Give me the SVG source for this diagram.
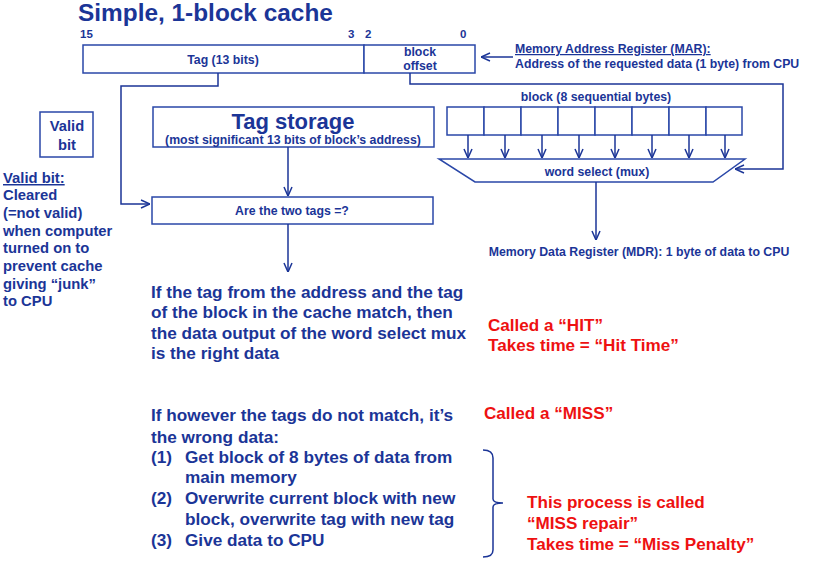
<svg xmlns="http://www.w3.org/2000/svg" width="815" height="562" viewBox="0 0 815 562">
<defs>
<marker id="ah" viewBox="0 0 10 10" refX="10" refY="5" markerWidth="10" markerHeight="10" markerUnits="userSpaceOnUse" orient="auto">
<path d="M1,1 L10,5 L1,9" fill="none" stroke="#1b3597" stroke-width="1.5"/>
</marker>
</defs>
<style>
text{font-family:"Liberation Sans",Arial,sans-serif;font-weight:bold;fill:#1b3597}
.box{fill:#fff;stroke:#2a47a8;stroke-width:1.5}
.ln{fill:none;stroke:#1b3597;stroke-width:1.5}
.b{font-size:11.5px}
.s{font-size:12.3px}
.m{font-size:17.2px}
.r{fill:#ee1111;font-size:17.1px}
.c{text-anchor:middle}
</style>
<rect width="815" height="562" fill="#fff"/>
<text x="78" y="21" style="font-size:24.4px">Simple, 1-block cache</text>

<g id="mar">
<text class="b" x="80" y="38">15</text>
<text class="b" x="348" y="38">3</text>
<text class="b" x="365" y="38">2</text>
<text class="b" x="460" y="38">0</text>
<rect class="box" x="83" y="45" width="281" height="28"/>
<rect class="box" x="364" y="45" width="111" height="28"/>
<text class="s c" x="223" y="64">Tag (13 bits)</text>
<text class="s c" x="420" y="56">block</text>
<text class="s c" x="420" y="70">offset</text>
</g>
<g id="mar-label">
<text class="s" x="515" y="53" text-decoration="underline">Memory Address Register (MAR):</text>
<text class="s" x="515" y="68">Address of the requested data (1 byte) from CPU</text>
</g>

<g id="valid">
<rect class="box" x="40" y="112" width="53" height="45"/>
<text class="c" x="67" y="131" style="font-size:14.7px">Valid</text>
<text class="c" x="67" y="150" style="font-size:14.7px">bit</text>
</g>

<g id="valid-note" style="font-size:14.8px">
<text x="3" y="183" text-decoration="underline">Valid bit:</text>
<text x="3" y="200">Cleared</text>
<text x="3" y="218">(=not valid)</text>
<text x="3" y="236">when computer</text>
<text x="3" y="253">turned on to</text>
<text x="3" y="271">prevent cache</text>
<text x="3" y="289">giving “junk”</text>
<text x="3" y="306">to CPU</text>
</g>

<g id="tagstore">
<rect class="box" x="153" y="107" width="281" height="40"/>
<text class="c" x="293" y="129" style="font-size:22px">Tag storage</text>
<text class="s c" x="293" y="144">(most significant 13 bits of block’s address)</text>
</g>

<g id="compare">
<rect class="box" x="152" y="197" width="281" height="27"/>
<text class="s c" x="292" y="215">Are the two tags =?</text>
</g>

<g id="block">
<text class="s c" x="596" y="101">block (8 sequential bytes)</text>
<rect class="box" x="447" y="107" width="37" height="28"/>
<rect class="box" x="484" y="107" width="37" height="28"/>
<rect class="box" x="521" y="107" width="37" height="28"/>
<rect class="box" x="558" y="107" width="37" height="28"/>
<rect class="box" x="595" y="107" width="37" height="28"/>
<rect class="box" x="632" y="107" width="37" height="28"/>
<rect class="box" x="669" y="107" width="37" height="28"/>
<rect class="box" x="706" y="107" width="36" height="28"/>
</g>

<g id="mux">
<path class="box" d="M439,159 L745,159 L713,182 L475,182 Z"/>
<text class="s c" x="597" y="176">word select (mux)</text>
</g>

<g id="mdr">
<text class="s c" x="639" y="256">Memory Data Register (MDR): 1 byte of data to CPU</text>
</g>

<g id="connectors">
<line class="ln" x1="513" y1="57" x2="481" y2="57" marker-end="url(#ah)"/>
<polyline class="ln" points="218,73 218,86 121,86 121,204 150,204" marker-end="url(#ah)"/>
<polyline class="ln" points="410,73 410,84 783,84 783,169 735,169" marker-end="url(#ah)"/>
<line class="ln" x1="288" y1="147" x2="288" y2="196" marker-end="url(#ah)"/>
<line class="ln" x1="288" y1="224" x2="288" y2="272" marker-end="url(#ah)"/>
<line class="ln" x1="596" y1="182" x2="596" y2="240" marker-end="url(#ah)"/>
<line class="ln" x1="468" y1="135" x2="468" y2="158" marker-end="url(#ah)"/>
<line class="ln" x1="505" y1="135" x2="505" y2="158" marker-end="url(#ah)"/>
<line class="ln" x1="542" y1="135" x2="542" y2="158" marker-end="url(#ah)"/>
<line class="ln" x1="579" y1="135" x2="579" y2="158" marker-end="url(#ah)"/>
<line class="ln" x1="615" y1="135" x2="615" y2="158" marker-end="url(#ah)"/>
<line class="ln" x1="652" y1="135" x2="652" y2="158" marker-end="url(#ah)"/>
<line class="ln" x1="689" y1="135" x2="689" y2="158" marker-end="url(#ah)"/>
<line class="ln" x1="725" y1="135" x2="725" y2="158" marker-end="url(#ah)"/>
<path class="ln" d="M483,450 Q493,450 493,458 L493,499 Q493,503 503,503 Q493,503 493,507 L493,550 Q493,557 483,557" stroke-width="1.2"/>
</g>

<g id="hit-text">
<text class="m" x="151" y="298">If the tag from the address and the tag</text>
<text class="m" x="151" y="318">of the block in the cache match, then</text>
<text class="m" x="151" y="339">the data output of the word select mux</text>
<text class="m" x="151" y="359">is the right data</text>
</g>
<g id="hit-note">
<text class="r" x="488" y="331">Called a “HIT”</text>
<text class="r" x="488" y="351">Takes time = “Hit Time”</text>
</g>

<g id="miss-text">
<text class="m" x="151" y="421">If however the tags do not match, it’s</text>
<text class="m" x="151" y="443">the wrong data:</text>
<text class="m" x="151" y="463">(1)</text>
<text class="m" x="185" y="463">Get block of 8 bytes of data from</text>
<text class="m" x="185" y="483">main memory</text>
<text class="m" x="151" y="504">(2)</text>
<text class="m" x="185" y="504">Overwrite current block with new</text>
<text class="m" x="185" y="525">block, overwrite tag with new tag</text>
<text class="m" x="151" y="546">(3)</text>
<text class="m" x="185" y="546">Give data to CPU</text>
</g>
<g id="miss-note">
<text class="r" x="484" y="419">Called a “MISS”</text>
<text class="r" x="527" y="508">This process is called</text>
<text class="r" x="527" y="529">“MISS repair”</text>
<text class="r" x="527" y="550">Takes time = “Miss Penalty”</text>
</g>
</svg>
